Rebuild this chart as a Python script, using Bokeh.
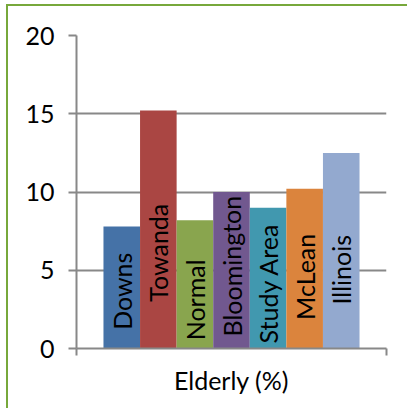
from bokeh.plotting import figure
from bokeh.models import Range1d, FixedTicker, ColumnDataSource
from bokeh.core.properties import value
from bokeh.embed import file_html
from bokeh.resources import INLINE

# Share of elderly residents (%) by place
places = ["Downs", "Towanda", "Normal", "Bloomington", "Study Area", "McLean", "Illinois"]
elderly_pct = [7.8, 15.2, 8.2, 10.0, 9.0, 10.2, 12.5]
colors = ["#4572A7", "#AA4643", "#89A54E", "#71588F", "#4198AF", "#DB843D", "#93A9CF"]
y_ticks = [0, 5, 10, 15, 20]
category_label = "Elderly (%)"

# Layout: height (in axis units) of the middle of each vertical bar label
label_mid = [3.66, 6.12, 3.11, 5.26, 4.17, 4.58, 5.03]

FONT = "Lato"
GRID = "#888888"
FRAME_GREEN = "#77A83B"

bar_w = 0.118
n = len(places)
xs = [0.5 + (i - (n - 1) / 2) * bar_w for i in range(n)]

src = ColumnDataSource(dict(x=xs, top=elderly_pct, color=colors,
                            name=places, label_y=label_mid))

p = figure(width=401, height=404, output_backend="svg", toolbar_location=None,
           x_range=Range1d(0, 1), y_range=Range1d(0, 20),
           min_border_left=68, min_border_right=23,
           min_border_top=29, min_border_bottom=62)
p.outline_line_color = None
p.background_fill_color = "white"
p.border_fill_color = "white"
# chart-area border on the top and left edges
p.styles = {"border-top": f"2px solid {FRAME_GREEN}",
            "border-left": f"2px solid {FRAME_GREEN}",
            "margin-left": "6px", "margin-top": "4px"}

p.vbar(x="x", top="top", width=bar_w, bottom=0, color="color", line_color=None, source=src)
p.text(x="x", y="label_y", text="name", angle=1.5708, source=src,
       text_align="center", text_baseline="middle",
       text_font=value(FONT), text_font_size="25px", text_color="black")

# y axis
p.yaxis.ticker = FixedTicker(ticks=y_ticks)
p.yaxis.axis_line_color = GRID
p.yaxis.axis_line_width = 2
p.yaxis.major_tick_line_color = GRID
p.yaxis.major_tick_line_width = 2
p.yaxis.major_tick_out = 8
p.yaxis.major_tick_in = 0
p.yaxis.minor_tick_line_color = None
p.yaxis.major_label_standoff = 14
p.yaxis.major_label_text_font = FONT
p.yaxis.major_label_text_font_size = "25px"
p.yaxis.major_label_text_color = "black"

# x axis: a single category with ticks at its edges
p.xaxis.ticker = FixedTicker(ticks=[0, 1])
p.xaxis.major_label_overrides = {0: "", 1: ""}
p.xaxis.major_label_text_font_size = "1px"
p.xaxis.axis_line_color = GRID
p.xaxis.axis_line_width = 2
p.xaxis.major_tick_line_color = GRID
p.xaxis.major_tick_line_width = 2
p.xaxis.major_tick_out = 7
p.xaxis.major_tick_in = 0
p.xaxis.minor_tick_line_color = None
p.xaxis.axis_label = category_label
p.xaxis.axis_label_text_font = FONT
p.xaxis.axis_label_text_font_size = "25px"
p.xaxis.axis_label_text_font_style = "normal"
p.xaxis.axis_label_text_color = "black"
p.xaxis.axis_label_standoff = 9

p.xgrid.grid_line_color = None
p.ygrid.grid_line_color = GRID
p.ygrid.grid_line_width = 2

open("out.html", "w").write(file_html(p, INLINE))
